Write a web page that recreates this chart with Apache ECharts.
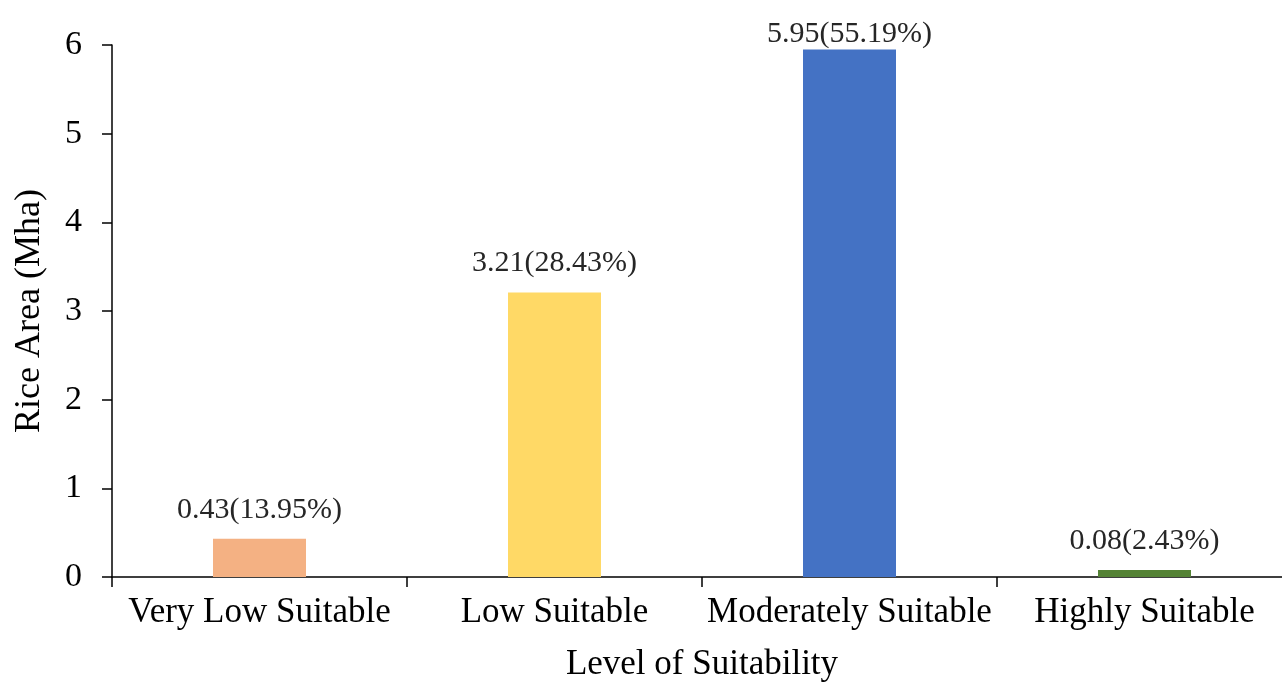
<!DOCTYPE html>
<html>
<head>
<meta charset="utf-8">
<style>
  html, body { margin: 0; padding: 0; background: #ffffff; }
  #chart { width: 1282px; height: 684px; }
</style>
<script src="https://cdn.jsdelivr.net/npm/echarts@6/dist/echarts.min.js"></script>
</head>
<body>
<div id="chart"></div>
<script>
// Rice area by suitability class
const categories = ['Very Low Suitable', 'Low Suitable', 'Moderately Suitable', 'Highly Suitable'];
const riceArea = [0.43, 3.21, 5.95, 0.08];          // Mha
const sharePct = ['13.95', '28.43', '55.19', '2.43']; // % shown in labels
const yTicks = [0, 1, 2, 3, 4, 5, 6];

const barColors = ['#F4B183', '#FFD966', '#4472C4', '#548235'];
const FONT = '"Liberation Serif", "Times New Roman", serif';

const chart = echarts.init(document.getElementById('chart'));

const seriesData = riceArea.map((v, i) => {
  const item = { value: v, itemStyle: { color: barColors[i] } };
  // the tallest bar's label sits tight against the top of the plot
  if (v === Math.max(...riceArea)) item.label = { distance: 0 };
  return item;
});

chart.setOption({
  animation: false,
  backgroundColor: '#ffffff',
  grid: {
    left: 112,
    right: -10,
    top: 45,
    bottom: 107,
    outerBoundsMode: 'none',
    containLabel: false
  },
  xAxis: {
    type: 'category',
    data: categories,
    name: 'Level of Suitability',
    nameLocation: 'middle',
    nameGap: 70,
    nameTextStyle: { fontFamily: FONT, fontSize: 35, color: '#000' },
    axisLine: { show: true, lineStyle: { color: '#000', width: 1.5 } },
    axisTick: { show: true, alignWithLabel: false, length: 10, inside: false,
                lineStyle: { color: '#000', width: 1.5 } },
    axisLabel: { fontFamily: FONT, fontSize: 35, color: '#000', margin: 18, interval: 0 },
    splitLine: { show: false }
  },
  yAxis: {
    type: 'value',
    min: yTicks[0],
    max: yTicks[yTicks.length - 1],
    interval: 1,
    name: 'Rice Area (Mha)',
    nameLocation: 'middle',
    nameGap: 64,
    nameRotate: 90,
    nameTextStyle: { fontFamily: FONT, fontSize: 36, color: '#000' },
    axisLine: { show: true, lineStyle: { color: '#000', width: 1.5 } },
    axisTick: { show: true, length: 10, lineStyle: { color: '#000', width: 1.5 } },
    axisLabel: { fontFamily: FONT, fontSize: 34, color: '#000', margin: 30 },
    splitLine: { show: false }
  },
  series: [{
    type: 'bar',
    data: seriesData,
    barWidth: 93,
    label: {
      show: true,
      position: 'top',
      distance: 14,
      fontFamily: FONT,
      fontSize: 30,
      color: '#262626',
      formatter: p => p.value.toFixed(2) + '(' + sharePct[p.dataIndex] + '%)'
    }
  }]
});
</script>
</body>
</html>
